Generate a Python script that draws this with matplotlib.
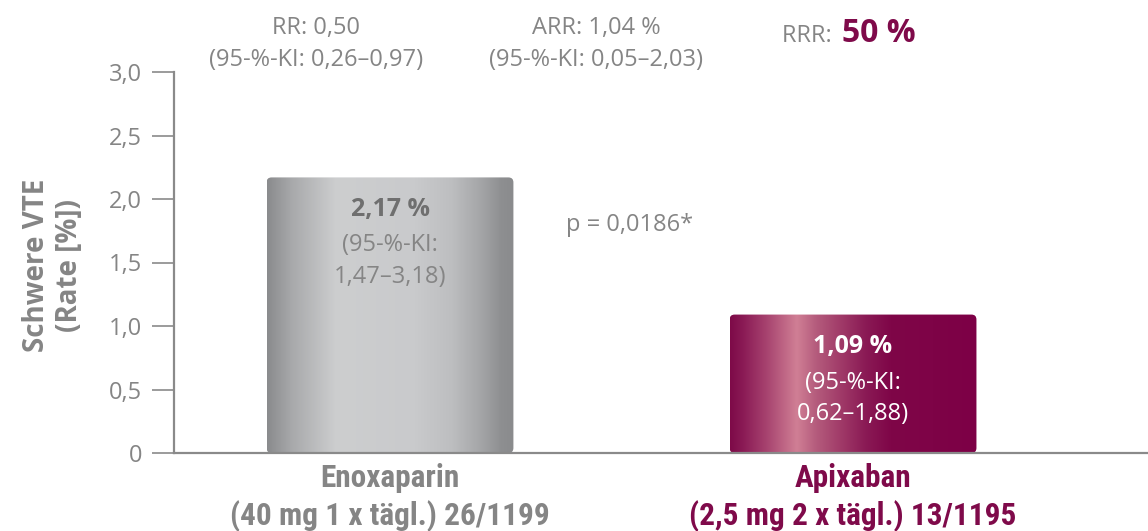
import numpy as np
import matplotlib
matplotlib.use("Agg")
import matplotlib.pyplot as plt
from matplotlib.patches import FancyBboxPatch
from matplotlib.colors import LinearSegmentedColormap

# ---- data ----
categories = ["Enoxaparin", "Apixaban"]
doses = ["(40 mg 1 x tägl.) 26/1199", "(2,5 mg 2 x tägl.) 13/1195"]
rates = [2.17, 1.09]
ci_low = [1.47, 0.62]
ci_high = [3.18, 1.88]
yticks = [0, 0.5, 1.0, 1.5, 2.0, 2.5, 3.0]
ytick_labels = ["0", "0,5", "1,0", "1,5", "2,0", "2,5", "3,0"]
rr_text = ["RR: 0,50", "(95-%-KI: 0,26–0,97)"]
arr_text = ["ARR: 1,04 %", "(95-%-KI: 0,05–2,03)"]
rrr_label = "RRR: "
rrr_value = "50 %"
p_text = "p = 0,0186*"
ylabel = "Schwere VTE\n(Rate [%])"

GRAY = "#858585"
DARKGRAY = "#6f6f6f"
MAG = "#7f0a4a"
SANS = ["Open Sans", "DejaVu Sans"]
NARROW = ["Roboto Condensed", "Liberation Sans Narrow", "Roboto", "DejaVu Sans"]
FS = 17

def fmt(v):
    return f"{v:.2f}".replace(".", ",")

fig = plt.figure(figsize=(11.48, 5.31), dpi=100)
ax = fig.add_axes([174 / 1148, 78 / 531, 974 / 1148, 381 / 531])

positions = [0, 1]
width = 0.533
bars = ax.bar(positions, rates, width=width, color="none", edgecolor="none")

gray_stops = [(0, "#8a8b8d"), (0.1, "#a8a9ab"), (0.28, "#cdcecf"), (0.6, "#c9cacc"),
              (0.75, "#bdbec0"), (0.87, "#a4a5a7"), (0.95, "#8e8f91"), (1, "#8a8b8d")]
mag_stops = [(0, "#7e0a48"), (0.05, "#8a1a55"), (0.15, "#a84470"), (0.27, "#d07f95"),
             (0.35, "#b45b7c"), (0.45, "#a03a68"), (0.55, "#8a1a55"), (0.65, "#7f0648"),
             (1, "#7d0046")]
stops_list = [gray_stops, mag_stops]

XL = (-0.4665, 1.637)
ax.set_xlim(*XL)
ax.set_ylim(0, 3.0)

xpx = 974 / (XL[1] - XL[0])
ypx = 381 / 3.0
radius_px = 5
grad = np.linspace(0, 1, 512).reshape(1, -1)
for rect, stops in zip(bars, stops_list):
    x0, y0, w, h = rect.get_x(), rect.get_y(), rect.get_width(), rect.get_height()
    cmap = LinearSegmentedColormap.from_list("g", stops)
    img = ax.imshow(grad, cmap=cmap, extent=(x0, x0 + w, y0, y0 + h), aspect="auto",
                    origin="lower", zorder=2, interpolation="bilinear")
    patch = FancyBboxPatch((x0, y0), w, h,
                           boxstyle=f"round,pad=0,rounding_size={radius_px / xpx}",
                           mutation_aspect=xpx / ypx, transform=ax.transData,
                           facecolor="none", edgecolor="none")
    ax.add_patch(patch)
    img.set_clip_path(patch)

ax.set_xlim(*XL)
ax.set_ylim(0, 3.0)

# bar labels
label_colors = [(DARKGRAY, GRAY), ("white", "white")]
for i, (pos, r) in enumerate(zip(positions, rates)):
    c1, c2 = label_colors[i]
    ax.annotate(fmt(r) + " %", xy=(pos, r), xytext=(0, -23), textcoords="offset points",
                ha="center", va="center", fontsize=18, fontweight="bold", color=c1,
                family=SANS, zorder=5)
    ax.annotate("(95-%-KI:", xy=(pos, r), xytext=(0, -49), textcoords="offset points",
                ha="center", va="center", fontsize=FS, color=c2, family=SANS, zorder=5)
    ax.annotate(f"{fmt(ci_low[i])}–{fmt(ci_high[i])})", xy=(pos, r), xytext=(0, -71.5),
                textcoords="offset points", ha="center", va="center", fontsize=FS,
                color=c2, family=SANS, zorder=5)

# spines / ticks
for s in ["top", "right"]:
    ax.spines[s].set_visible(False)
for s in ["left", "bottom"]:
    ax.spines[s].set_color("#8a8a8a")
    ax.spines[s].set_linewidth(1.6)
    ax.spines[s].set_zorder(6)
ax.set_yticks(yticks)
ax.set_yticklabels(ytick_labels, family=SANS, fontsize=FS, color=GRAY)
ax.tick_params(axis="y", length=16, width=1.2, color="#8a8a8a", pad=7)
ax.set_xticks(positions)
ax.set_xticklabels([f"{c}\n{d}" for c, d in zip(categories, doses)], family=NARROW,
                   fontsize=22.5, fontweight="bold", linespacing=1.25)
for lbl, col in zip(ax.get_xticklabels(), [GRAY, MAG]):
    lbl.set_color(col)
ax.tick_params(axis="x", length=0, pad=7.5)

fig.text(53 / 1148, 1 - 265 / 531, ylabel, rotation=90, ha="center", va="center",
         fontsize=20, fontweight="bold", color=GRAY, family=SANS, linespacing=1.2)

# header texts
for txt, xc in [(rr_text, 316), (arr_text, 596)]:
    fig.text(xc / 1148, 1 - 28 / 531, txt[0], ha="center", va="center", fontsize=FS,
             color=GRAY, family=SANS)
    fig.text(xc / 1148, 1 - 60 / 531, txt[1], ha="center", va="center", fontsize=FS,
             color=GRAY, family=SANS)
fig.text(838 / 1148, 1 - 36 / 531, rrr_label, ha="right", va="center", fontsize=FS,
         color=GRAY, family=SANS)
fig.text(842 / 1148, 1 - 34 / 531, rrr_value, ha="left", va="center", fontsize=23,
         fontweight="bold", color=MAG, family=SANS)
fig.text(630 / 1148, 1 - 225 / 531, p_text, ha="center", va="center", fontsize=FS,
         color=GRAY, family=SANS)

fig.savefig("out.png", dpi=100)
